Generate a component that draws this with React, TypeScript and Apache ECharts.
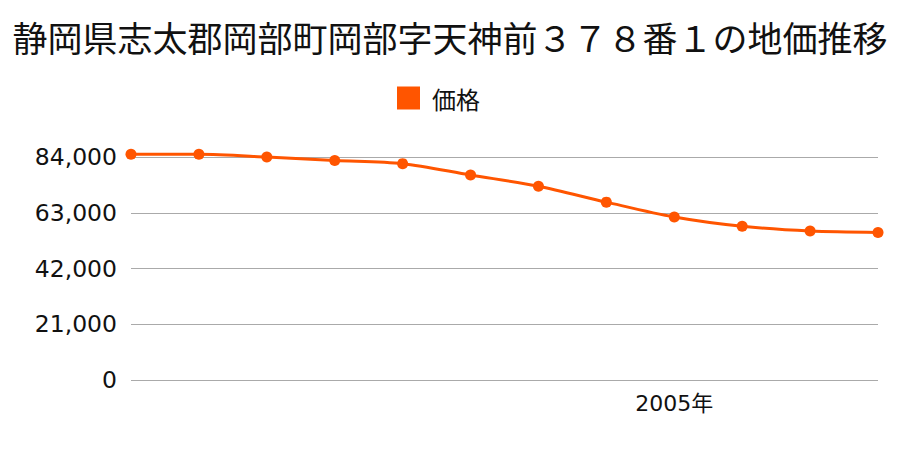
import React, { useEffect, useRef } from "react";
import * as echarts from "echarts";

const titleText = "静岡県志太郡岡部町岡部字天神前３７８番１の地価推移";
const seriesName = "価格";
const years = ["1997年", "1998年", "1999年", "2000年", "2001年", "2002年", "2003年", "2004年", "2005年", "2006年", "2007年", "2008年"];
const prices = [85000, 85000, 84000, 82700, 81500, 77200, 73000, 67000, 61400, 57900, 56100, 55600];
const shownLabels = ["2005年"];
const yMax = 84000;
const yInterval = 21000;

export default function App() {
  const ref = useRef<HTMLDivElement>(null);
  useEffect(() => {
    if (!ref.current) return;
    const chart = echarts.init(ref.current, undefined, { renderer: "svg" });
    chart.setOption({
      animation: false,
      backgroundColor: "#ffffff",
      title: {
        text: titleText,
        left: "center",
        top: 14,
        textStyle: {
          fontFamily: "'Noto Sans CJK JP', sans-serif",
          fontSize: 35,
          fontWeight: "normal",
          color: "#111",
        },
      },
      legend: {
        data: [seriesName],
        top: 81,
        left: 392,
        icon: "rect",
        itemWidth: 23,
        itemHeight: 23,
        itemGap: 10,
        textStyle: {
          fontFamily: "'Noto Sans CJK JP', sans-serif",
          fontSize: 24,
          color: "#111",
          padding: [0, 0, 0, 7],
        },
      },
      grid: { left: 131, right: 22, top: 157, bottom: 70, containLabel: false },
      xAxis: {
        type: "category",
        data: years,
        boundaryGap: false,
        axisLine: { show: false },
        axisTick: { show: false },
        axisLabel: {
          interval: (_i: number, v: string) => shownLabels.indexOf(v) >= 0,
          margin: 12,
          fontFamily: "'DejaVu Sans', 'Noto Sans CJK JP', sans-serif",
          fontSize: 22,
          color: "#111",
        },
        splitLine: { show: false },
      },
      yAxis: {
        type: "value",
        min: 0,
        max: yMax,
        interval: yInterval,
        axisLine: { show: false },
        axisTick: { show: false },
        axisLabel: {
          margin: 14,
          fontFamily: "'DejaVu Sans', sans-serif",
          fontSize: 23.5,
          color: "#111",
          formatter: (v: number) => v.toLocaleString("en-US"),
        },
        splitLine: { lineStyle: { color: "#aaaaaa", width: 1 } },
      },
      series: [
        {
          name: seriesName,
          type: "line",
          data: prices,
          smooth: 0.3,
          clip: false,
          symbol: "circle",
          symbolSize: 11,
          color: "#ff5500",
          lineStyle: { width: 3, color: "#ff5500" },
          itemStyle: { color: "#ff5500" },
        },
      ],
    });
    return () => chart.dispose();
  }, []);
  return <div ref={ref} style={{ width: 900, height: 450, margin: -8 }} />;
}
